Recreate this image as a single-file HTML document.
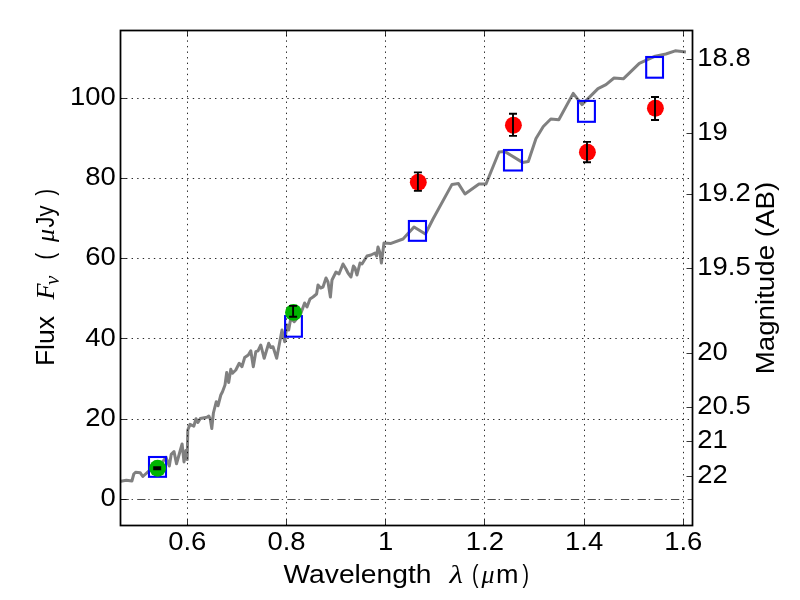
<!DOCTYPE html>
<html><head><meta charset="utf-8"><title>plot</title>
<style>html,body{margin:0;padding:0;background:#fff}svg{display:block;will-change:transform}text{font-family:"Liberation Sans",sans-serif;fill:#000}</style></head><body>
<svg width="800" height="600" viewBox="0 0 800 600">
<rect width="800" height="600" fill="#fff"/>
<polyline fill="none" stroke="#808080" stroke-width="3" stroke-linejoin="round" stroke-linecap="butt" points="120.8,481.2 126.3,480.3 131.9,481.0 133.8,474.0 135.6,472.2 140.3,472.8 142.8,476.5 148.8,471.2 153.0,467.0 157.0,470.0 161.0,464.0 166.0,457.3 169.3,466.0 171.2,454.4 174.0,451.6 176.5,463.8 179.7,452.5 182.1,444.0 184.0,461.9 185.9,450.6 187.2,459.6 187.8,430.0 190.0,424.4 193.8,426.2 196.0,418.8 197.9,422.5 200.3,418.4 206.9,417.2 208.8,416.0 210.2,418.8 211.8,428.5 213.4,413.0 216.3,401.7 218.0,405.8 220.8,395.0 222.5,391.7 225.0,385.0 226.7,372.5 228.7,382.5 230.8,369.2 232.5,373.3 235.8,370.0 239.2,363.3 242.0,366.7 244.7,357.5 248.3,355.0 250.8,350.8 253.3,366.7 255.8,351.7 258.0,350.8 260.8,345.0 264.2,358.3 268.7,343.3 270.8,347.5 273.0,346.7 276.7,358.3 282.0,330.0 284.7,341.7 287.0,325.0 288.7,330.0 290.8,318.3 294.2,321.7 298.3,316.7 301.0,313.0 304.6,303.0 307.0,307.0 310.0,299.0 313.0,297.0 316.6,294.0 318.0,285.0 320.6,288.0 323.0,287.0 326.0,278.0 328.0,282.0 330.4,297.0 332.0,280.0 336.0,272.0 339.0,274.0 343.0,264.0 346.0,269.0 348.0,273.0 351.0,277.0 353.4,266.0 355.0,268.0 357.0,275.0 360.0,263.0 362.0,264.0 367.0,256.0 371.0,255.0 375.0,253.0 376.6,256.0 378.0,247.0 380.0,253.0 381.4,263.0 384.0,243.0 391.0,243.4 403.0,239.0 414.0,227.0 425.4,234.0 433.0,219.0 452.0,184.4 458.4,183.6 465.0,194.0 479.0,184.0 486.0,184.0 499.0,152.0 505.0,151.6 522.5,162.4 528.3,161.4 536.0,138.5 543.3,126.5 550.8,119.0 558.8,119.8 573.2,93.4 582.0,104.6 598.0,88.6 606.0,84.6 614.0,78.0 623.3,78.8 639.3,63.3 655.2,56.1 665.9,54.0 675.2,50.8 685.9,51.9"/>
<rect x="149" y="457" width="17.0" height="19.8" fill="none" stroke="#0000ff" stroke-width="2.1"/>
<rect x="285.1" y="316.1" width="16.8" height="20.6" fill="none" stroke="#0000ff" stroke-width="2.1"/>
<rect x="408.9" y="221" width="17.1" height="19.8" fill="none" stroke="#0000ff" stroke-width="2.1"/>
<rect x="504" y="150" width="18.0" height="20.5" fill="none" stroke="#0000ff" stroke-width="2.1"/>
<rect x="578" y="100.9" width="16.9" height="20.9" fill="none" stroke="#0000ff" stroke-width="2.1"/>
<rect x="646.2" y="57" width="16.8" height="20.7" fill="none" stroke="#0000ff" stroke-width="2.1"/>
<path d="M187.50 525.5 V30.5 M286.50 525.5 V30.5 M385.50 525.5 V30.5 M484.50 525.5 V30.5 M584.50 525.5 V30.5 M683.50 525.5 V30.5 M120.5 419.50 H692.5 M120.5 338.50 H692.5 M120.5 258.50 H692.5 M120.5 178.50 H692.5 M120.5 98.50 H692.5" stroke="#000" stroke-width="0.85" stroke-dasharray="1.39 4.17" fill="none"/>
<path d="M120.5 499.50 H692.5" stroke="#000" stroke-width="0.7" stroke-dasharray="8.3 2.8 1.4 4.18" fill="none"/>
<circle cx="157.65" cy="468.3" r="8.45" fill="#00b400"/>
<path d="M157.2 467.3 V469.3 M153.2 467.3 h8 M153.2 469.3 h8" stroke="#000" stroke-width="1.9" fill="none"/>
<circle cx="293.5" cy="312.4" r="8.45" fill="#00b400"/>
<path d="M293.1 305.9 V316.8 M289.1 305.9 h8 M289.1 316.8 h8" stroke="#000" stroke-width="1.9" fill="none"/>
<circle cx="418.3" cy="182.3" r="8.45" fill="#ff0000"/>
<path d="M417.9 172.4 V190.9 M413.9 172.4 h8 M413.9 190.9 h8" stroke="#000" stroke-width="1.9" fill="none"/>
<circle cx="513.4" cy="125.2" r="8.45" fill="#ff0000"/>
<path d="M513.0 113.8 V135.9 M509.0 113.8 h8 M509.0 135.9 h8" stroke="#000" stroke-width="1.9" fill="none"/>
<circle cx="587.4" cy="152.3" r="8.45" fill="#ff0000"/>
<path d="M587.0 141.9 V162.2 M583.0 141.9 h8 M583.0 162.2 h8" stroke="#000" stroke-width="1.9" fill="none"/>
<circle cx="655.4" cy="108.3" r="8.45" fill="#ff0000"/>
<path d="M655.0 97 V120 M651.0 97 h8 M651.0 120 h8" stroke="#000" stroke-width="1.9" fill="none"/>
<rect x="120.5" y="30.5" width="572.0" height="495.0" fill="none" stroke="#000" stroke-width="1.75"/>
<path d="M187.50 525.5 v-6 M187.50 30.5 v6 M286.50 525.5 v-6 M286.50 30.5 v6 M385.50 525.5 v-6 M385.50 30.5 v6 M484.50 525.5 v-6 M484.50 30.5 v6 M584.50 525.5 v-6 M584.50 30.5 v6 M683.50 525.5 v-6 M683.50 30.5 v6 M120.5 499.50 h6 M120.5 419.50 h6 M120.5 338.50 h6 M120.5 258.50 h6 M120.5 178.50 h6 M120.5 98.50 h6 M692.5 59.50 h-6 M692.5 133.50 h-6 M692.5 194.50 h-6 M692.5 268.50 h-6 M692.5 353.50 h-6 M692.5 407.50 h-6 M692.5 441.50 h-6 M692.5 476.50 h-6" stroke="#000" stroke-width="0.8" fill="none"/>
<text transform="translate(115.80,506.20) scale(1.08,1)" font-size="25.4" text-anchor="end">0</text>
<text transform="translate(115.80,425.94) scale(1.08,1)" font-size="25.4" text-anchor="end">20</text>
<text transform="translate(115.80,345.68) scale(1.08,1)" font-size="25.4" text-anchor="end">40</text>
<text transform="translate(115.80,265.42) scale(1.08,1)" font-size="25.4" text-anchor="end">60</text>
<text transform="translate(115.80,185.16) scale(1.08,1)" font-size="25.4" text-anchor="end">80</text>
<text transform="translate(115.80,104.90) scale(1.08,1)" font-size="25.4" text-anchor="end">100</text>
<text transform="translate(187.30,549.60) scale(1.08,1)" font-size="25.4" text-anchor="middle">0.6</text>
<text transform="translate(286.50,549.60) scale(1.08,1)" font-size="25.4" text-anchor="middle">0.8</text>
<text transform="translate(385.70,549.60) scale(1.08,1)" font-size="25.4" text-anchor="middle">1</text>
<text transform="translate(484.90,549.60) scale(1.08,1)" font-size="25.4" text-anchor="middle">1.2</text>
<text transform="translate(584.10,549.60) scale(1.08,1)" font-size="25.4" text-anchor="middle">1.4</text>
<text transform="translate(683.30,549.60) scale(1.08,1)" font-size="25.4" text-anchor="middle">1.6</text>
<text transform="translate(697.30,65.68) scale(1.08,1)" font-size="25.4" text-anchor="start">18.8</text>
<text transform="translate(697.30,139.71) scale(1.08,1)" font-size="25.4" text-anchor="start">19</text>
<text transform="translate(697.30,201.28) scale(1.08,1)" font-size="25.4" text-anchor="start">19.2</text>
<text transform="translate(697.30,274.78) scale(1.08,1)" font-size="25.4" text-anchor="start">19.5</text>
<text transform="translate(697.30,360.00) scale(1.08,1)" font-size="25.4" text-anchor="start">20</text>
<text transform="translate(697.30,413.77) scale(1.08,1)" font-size="25.4" text-anchor="start">20.5</text>
<text transform="translate(697.30,447.69) scale(1.08,1)" font-size="25.4" text-anchor="start">21</text>
<text transform="translate(697.30,482.61) scale(1.08,1)" font-size="25.4" text-anchor="start">22</text>
<text x="283.5" y="583" font-size="25.4" textLength="148" lengthAdjust="spacingAndGlyphs">Wavelength</text>
<text x="449.5" y="583" font-size="25.4" textLength="13.5" lengthAdjust="spacingAndGlyphs" style="font-family:'Liberation Serif',serif;font-style:italic">λ</text>
<text x="472" y="583" font-size="25.4" textLength="6.5" lengthAdjust="spacingAndGlyphs">(</text>
<text x="481.6" y="583" font-size="25.4" textLength="13" lengthAdjust="spacingAndGlyphs" style="font-family:'Liberation Serif',serif;font-style:italic">μ</text>
<text x="496" y="583" font-size="25.4" textLength="22.5" lengthAdjust="spacingAndGlyphs">m</text>
<text x="522.4" y="583" font-size="25.4" textLength="6.5" lengthAdjust="spacingAndGlyphs">)</text>
<g transform="translate(54.3,364.5) rotate(-90)"><text x="-1.6" y="0" font-size="25.4" textLength="50" lengthAdjust="spacingAndGlyphs">Flux</text><text x="65" y="0" font-size="25.4" textLength="16" lengthAdjust="spacingAndGlyphs" style="font-family:'Liberation Serif',serif;font-style:italic">F</text><text x="79.5" y="5" font-size="21" style="font-family:'Liberation Serif',serif;font-style:italic">ν</text><text x="105" y="0" font-size="25.4" textLength="6.5" lengthAdjust="spacingAndGlyphs">(</text><text x="122.5" y="0" font-size="25.4" textLength="13" lengthAdjust="spacingAndGlyphs" style="font-family:'Liberation Serif',serif;font-style:italic">μ</text><text x="137" y="0" font-size="25.4" textLength="22" lengthAdjust="spacingAndGlyphs">Jy</text><text x="169" y="0" font-size="25.4" textLength="6.5" lengthAdjust="spacingAndGlyphs">)</text></g>
<g transform="translate(774,374.3) rotate(-90)"><text x="0" y="0" font-size="25.4" textLength="192.5" lengthAdjust="spacingAndGlyphs">Magnitude (AB)</text></g>
</svg></body></html>
